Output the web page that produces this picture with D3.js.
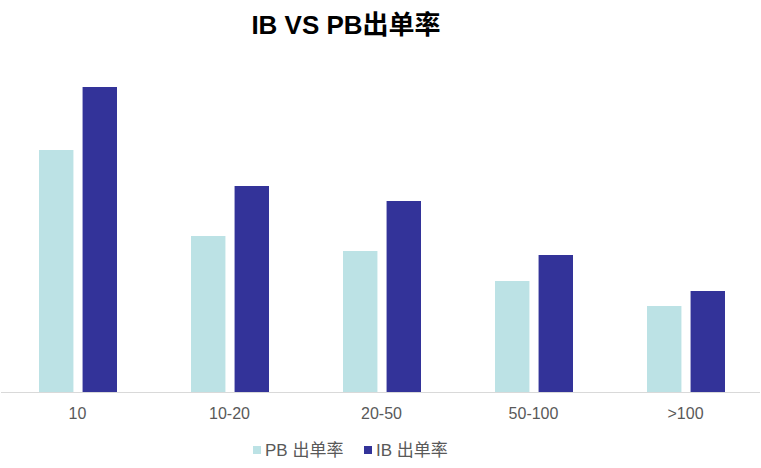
<!DOCTYPE html>
<html>
<head>
<meta charset="utf-8">
<script src="https://cdn.jsdelivr.net/npm/d3@7"></script>
<style>
  html, body { margin: 0; padding: 0; background: #fff; }
  svg { display: block; }
  text { font-family: "Liberation Sans", Arial, "Noto Sans CJK SC", sans-serif; }
</style>
</head>
<body>
<svg id="chart" width="761" height="468"></svg>
<script>
const categories = ["10", "10-20", "20-50", "50-100", ">100"];
const seriesNames = ["PB 出单率", "IB 出单率"];
const pbValues = [24.2, 15.6, 14.1, 11.1, 8.6];
const ibValues = [30.5, 20.6, 19.1, 13.7, 10.1];
const colors = ["#bce2e5", "#333399"];
const title = "IB VS PB出单率";

const data = categories.map((c, i) => ({ cat: c, values: [pbValues[i], ibValues[i]] }));

const svg = d3.select("#chart");
const baseY = 392;

const x0 = d3.scaleBand().domain(categories).range([1.5, 761.5]).padding(0);
const x1 = d3.scaleBand().domain(seriesNames).range([37.5, 115.5]).paddingInner(0.21);
const y = d3.scaleLinear().domain([0, 35]).range([baseY, baseY - 350]);

// title
svg.append("text")
  .attr("x", 346).attr("y", 34)
  .attr("text-anchor", "middle")
  .style("font-size", "26px").style("font-weight", "bold")
  .style("fill", "#000")
  .text(title);

// bars
const g = svg.append("g").selectAll("g").data(data).join("g")
  .attr("transform", d => `translate(${x0(d.cat)},0)`);
g.selectAll("rect").data(d => d.values.map((v, j) => ({ name: seriesNames[j], v, j })))
  .join("rect")
  .attr("x", d => x1(d.name))
  .attr("width", x1.bandwidth())
  .attr("y", d => y(d.v))
  .attr("height", d => y(0) - y(d.v))
  .attr("fill", d => colors[d.j]);

// x axis
const xAxis = d3.axisBottom(x0).tickSize(0).tickPadding(16);
const ax = svg.append("g").attr("transform", `translate(0,${baseY})`).call(xAxis);
ax.select(".domain").attr("stroke", "#d9d9d9").attr("stroke-width", 1)
  .attr("d", "M1,0.5H760");
ax.selectAll("text")
  .style("font-size", "16px").style("fill", "#595959")
  .style("font-family", "'Liberation Sans', Arial, sans-serif");

// legend
const legendItems = [
  { name: seriesNames[0], color: colors[0], x: 253 },
  { name: seriesNames[1], color: colors[1], x: 364 }
];
const lg = svg.append("g").selectAll("g").data(legendItems).join("g")
  .attr("transform", d => `translate(${d.x},446)`);
lg.append("rect").attr("width", 8).attr("height", 8).attr("fill", d => d.color);
lg.append("text").attr("x", 12).attr("y", 10)
  .style("font-size", "17px").style("fill", "#595959")
  .text(d => d.name);
</script>
</body>
</html>
